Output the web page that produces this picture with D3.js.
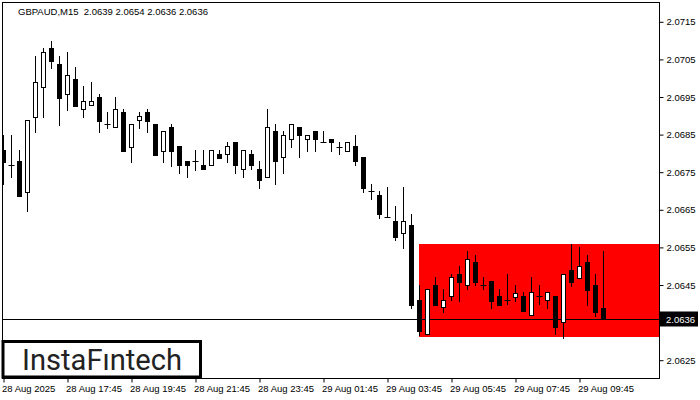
<!DOCTYPE html>
<html>
<head>
<meta charset="utf-8">
<script src="https://cdn.jsdelivr.net/npm/d3@7/dist/d3.min.js"></script>
<style>
  html, body { margin: 0; padding: 0; background: #ffffff; }
  svg { display: block; }
</style>
</head>
<body>
<script>
// ---------- data (GBPAUD, M15) ----------
const openPrices = [2.06809,2.06769,2.06780,2.06697,2.06896,2.06976,2.07079,2.07037,2.06957,2.06997,
  2.06917,2.06928,2.06949,2.06878,2.06870,2.06910,2.06817,2.06888,2.06910,2.06878,
  2.06806,2.06870,2.06819,2.06780,2.06780,2.06769,2.06769,2.06798,2.06798,2.06830,
  2.06758,2.06798,2.06758,2.06737,2.06859,2.06790,2.06838,2.06870,2.06838,2.06859,
  2.06830,2.06838,2.06817,2.06806,2.06819,2.06790,2.06700,2.06689,2.06631,2.06620,
  2.06588,2.06610,2.06411,2.06321,2.06451,2.06392,2.06421,2.06480,2.06451,2.06512,
  2.06451,2.06461,2.06421,2.06411,2.06419,2.06421,2.06371,2.06421,2.06411,2.06421,
  2.06352,2.06490,2.06469,2.06512,2.06451,2.06390];
const highPrices = [2.06849,2.06849,2.06809,2.06888,2.07058,2.07079,2.07098,2.07058,2.07069,2.07029,
  2.06978,2.06989,2.06957,2.06910,2.06949,2.06917,2.06878,2.06910,2.06917,2.06878,
  2.06859,2.06878,2.06819,2.06780,2.06809,2.06809,2.06809,2.06809,2.06830,2.06830,
  2.06809,2.06809,2.06780,2.06917,2.06878,2.06859,2.06878,2.06870,2.06849,2.06859,
  2.06859,2.06838,2.06830,2.06830,2.06849,2.06790,2.06718,2.06700,2.06711,2.06660,
  2.06711,2.06639,2.06451,2.06440,2.06472,2.06440,2.06480,2.06501,2.06541,2.06530,
  2.06472,2.06461,2.06440,2.06480,2.06451,2.06432,2.06472,2.06451,2.06432,2.06421,
  2.06480,2.06559,2.06551,2.06530,2.06480,2.06540];
const lowPrices = [2.06718,2.06737,2.06687,2.06647,2.06856,2.06896,2.07026,2.06875,2.06915,2.06925,
  2.06896,2.06928,2.06856,2.06867,2.06870,2.06806,2.06777,2.06867,2.06856,2.06795,
  2.06777,2.06766,2.06748,2.06737,2.06756,2.06758,2.06769,2.06787,2.06777,2.06748,
  2.06737,2.06758,2.06708,2.06737,2.06718,2.06748,2.06817,2.06790,2.06806,2.06806,
  2.06830,2.06806,2.06798,2.06806,2.06769,2.06697,2.06679,2.06628,2.06631,2.06570,
  2.06549,2.06390,2.06318,2.06321,2.06397,2.06379,2.06411,2.06408,2.06440,2.06451,
  2.06440,2.06390,2.06397,2.06400,2.06408,2.06382,2.06371,2.06400,2.06390,2.06321,
  2.06310,2.06448,2.06469,2.06397,2.06368,2.06360];
const closePrices = [2.06777,2.06769,2.06687,2.06888,2.06989,2.07069,2.07045,2.06947,2.07008,2.06925,
  2.06939,2.06939,2.06886,2.06878,2.06917,2.06806,2.06878,2.06899,2.06886,2.06795,
  2.06859,2.06806,2.06769,2.06769,2.06780,2.06758,2.06809,2.06787,2.06819,2.06769,
  2.06809,2.06769,2.06729,2.06870,2.06780,2.06849,2.06878,2.06849,2.06849,2.06838,
  2.06830,2.06830,2.06817,2.06830,2.06780,2.06708,2.06700,2.06639,2.06631,2.06578,
  2.06620,2.06397,2.06328,2.06440,2.06397,2.06411,2.06472,2.06459,2.06520,2.06459,
  2.06451,2.06408,2.06397,2.06411,2.06429,2.06382,2.06432,2.06421,2.06432,2.06339,
  2.06480,2.06459,2.06501,2.06437,2.06379,2.06360];

const xTickLabels = ["28 Aug 2025","28 Aug 17:45","28 Aug 19:45","28 Aug 21:45","28 Aug 23:45",
  "29 Aug 01:45","29 Aug 03:45","29 Aug 05:45","29 Aug 07:45","29 Aug 09:45"];
const xTickBars = [0,8,16,24,32,40,48,56,64,72];
// 2.0635 sits under the bid-price box in the reference, so it is not shown
const yTickValues = [2.0625,2.0645,2.0655,2.0665,2.0675,2.0685,2.0695,2.0705,2.0715];

const bidPrice = 2.0636;
const zoneStartBar = 52;
const zoneTop = 2.06559;
const zoneBottom = 2.06313;
const titleText = "GBPAUD,M15  2.0639 2.0654 2.0636 2.0636";

// ---------- drawing ----------
const W = 700, H = 400;
const plotL = 3, plotR = 659, plotT = 3, plotB = 378;
const axisFont = "'Liberation Sans', Arial, sans-serif";

const svg = d3.select("body").append("svg").attr("width", W).attr("height", H);

const x = d3.scaleLinear().domain([0, openPrices.length - 1]).range([3.5, 603.5]);
const y = d3.scaleLinear().domain([2.0620, 2.0720]).range([379, 3]);

svg.append("clipPath").attr("id", "plotClip")
  .append("rect").attr("x", plotL).attr("y", plotT).attr("width", plotR - plotL).attr("height", plotB - plotT);

const plot = svg.append("g").attr("clip-path", "url(#plotClip)");

// red zone
plot.append("rect")
  .attr("x", Math.round(x(zoneStartBar)) - 1)
  .attr("y", Math.round(y(zoneTop)))
  .attr("width", plotR - (Math.round(x(zoneStartBar)) - 1))
  .attr("height", Math.round(y(zoneBottom)) - Math.round(y(zoneTop)))
  .attr("fill", "#ff0000");

// bid line
const bidY = Math.round(y(bidPrice)) + 0.5;
plot.append("line").attr("x1", plotL).attr("x2", plotR).attr("y1", bidY).attr("y2", bidY)
  .attr("stroke", "#000").attr("stroke-width", 1);

// candles
const bars = openPrices.map((o, i) => ({ i, o, h: highPrices[i], l: lowPrices[i], c: closePrices[i] }));
const cg = plot.selectAll("g.candle").data(bars).enter().append("g").attr("class", "candle");
cg.append("line")
  .attr("x1", d => x(d.i)).attr("x2", d => x(d.i))
  .attr("y1", d => Math.round(y(d.h)))
  .attr("y2", d => Math.round(y(d.l)) + 1)
  .attr("stroke", "#000").attr("stroke-width", 1);
cg.each(function (d) {
  const g = d3.select(this);
  const yTop = Math.round(y(Math.max(d.o, d.c))) + 0.5;
  const yBot = Math.round(y(Math.min(d.o, d.c))) + 0.5;
  if (yBot - yTop < 1) {
    g.append("line").attr("x1", x(d.i) - 3).attr("x2", x(d.i) + 3)
      .attr("y1", yTop).attr("y2", yTop).attr("stroke", "#000").attr("stroke-width", 1);
  } else {
    g.append("rect")
      .attr("x", x(d.i) - 2).attr("width", 4)
      .attr("y", yTop).attr("height", yBot - yTop)
      .attr("fill", d.c > d.o ? "#ffffff" : "#000000")
      .attr("stroke", "#000").attr("stroke-width", 1);
  }
});

// frame
svg.append("rect").attr("x", 2.5).attr("y", 2.5).attr("width", plotR - 2).attr("height", plotB - 2)
  .attr("fill", "none").attr("stroke", "#000").attr("stroke-width", 1);

// right price axis
const yAxis = d3.axisRight(y).tickValues(yTickValues).tickSize(4).tickPadding(3)
  .tickFormat(d3.format(".4f"));
const yAx = svg.append("g").attr("transform", `translate(${plotR + 0.5},0)`).call(yAxis);
yAx.select(".domain").remove();
yAx.selectAll("line").attr("stroke", "#000");
yAx.selectAll("text").attr("font-family", axisFont).attr("font-size", "9.5px").attr("fill", "#000");

// bid price label
svg.append("rect").attr("x", plotR + 1).attr("y", bidY - 8).attr("width", 38).attr("height", 15).attr("fill", "#000");
svg.append("text").attr("x", plotR + 7).attr("y", bidY + 3.5)
  .attr("font-family", axisFont).attr("font-size", "9.5px").attr("fill", "#fff")
  .text(d3.format(".4f")(bidPrice));

// bottom time axis
const xAxis = d3.axisBottom(x).tickValues(xTickBars).tickSize(4)
  .tickFormat((d, i) => xTickLabels[i]);
const xAx = svg.append("g").attr("transform", `translate(0,${plotB + 0.5})`).call(xAxis);
xAx.select(".domain").remove();
xAx.selectAll("line").attr("stroke", "#000");
xAx.selectAll("text").attr("font-family", axisFont).attr("font-size", "9.5px").attr("fill", "#000")
  .attr("text-anchor", "start").attr("x", -2).attr("y", 13).attr("dy", 0);

// title
svg.append("text").attr("x", 18).attr("y", 15)
  .attr("font-family", axisFont).attr("font-size", "9.5px").attr("fill", "#000")
  .attr("xml:space", "preserve").style("white-space", "pre")
  .text(titleText);

// logo
svg.append("rect").attr("x", 3).attr("y", 341.5).attr("width", 197.5).attr("height", 35.5)
  .attr("fill", "#fff").attr("stroke", "#000").attr("stroke-width", 3);
svg.append("text").attr("x", 22).attr("y", 369.5)
  .attr("font-family", "Roboto, 'Open Sans', sans-serif").attr("font-weight", 400)
  .attr("font-size", "29px").attr("fill", "#222")
  .attr("textLength", 160).attr("lengthAdjust", "spacingAndGlyphs")
  .text("InstaFıntech");
</script>
</body>
</html>
